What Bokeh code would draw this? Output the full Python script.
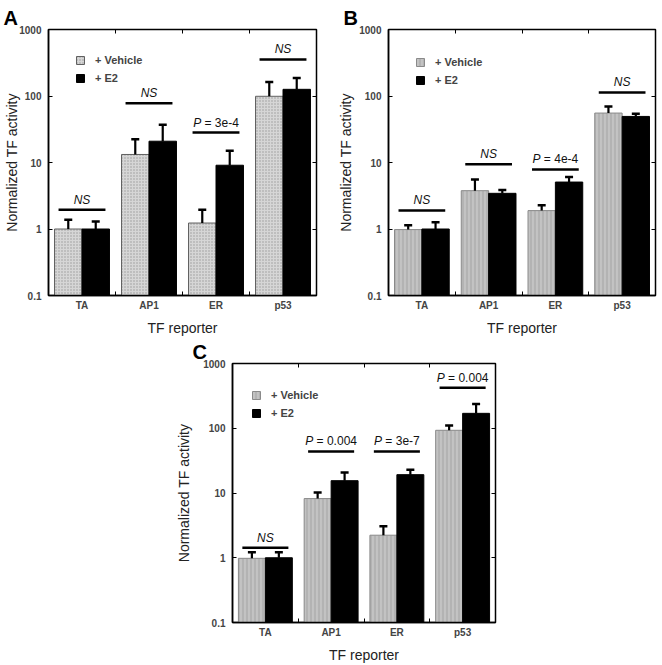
import math
from bokeh.plotting import figure
from bokeh.models import (ColumnDataSource, FixedTicker, LogAxis, LinearAxis, Legend,
                          LegendItem, CustomJSTickFormatter, Spacer, Range1d)
from bokeh.layouts import row, column
from bokeh.core.properties import value
from bokeh.embed import file_html
from bokeh.resources import INLINE

# ---------------- data ----------------
categories = ["TA", "AP1", "ER", "p53"]
y_ticks = [0.1, 1, 10, 100, 1000]

a_vehicle = [1.0, 13.2, 1.23, 99]
a_vehicle_err = [1.38, 22.4, 1.95, 162]
a_e2 = [1.0, 20.9, 9.1, 126]
a_e2_err = [1.3, 37, 15, 186]
a_sig_label = ["NS", "NS", "P = 3e-4", "NS"]
a_sig_y = [1.95, 77.6, 28.2, 355]

b_vehicle = [0.98, 3.77, 1.89, 55.4]
b_vehicle_err = [1.14, 5.57, 2.28, 69.7]
b_e2 = [1.0, 3.44, 5.08, 49.3]
b_e2_err = [1.26, 3.86, 6.03, 54]
b_sig_label = ["NS", "NS", "P = 4e-4", "NS"]
b_sig_y = [1.9, 9.4, 7.85, 113]

c_vehicle = [0.98, 8.2, 2.23, 93]
c_vehicle_err = [1.22, 10.2, 3.07, 110]
c_e2 = [1.0, 15.5, 19.2, 170]
c_e2_err = [1.22, 20.8, 22.9, 236]
c_sig_label = ["NS", "P = 0.004", "P = 3e-7", "P = 0.004"]
c_sig_y = [1.43, 43.8, 43.8, 423]

FONT = "Liberation Sans"
SIG_SIZE = 12
CHAR_W = {"P": .667, "N": .722, "S": .667, " ": .278, "\u00a0": .278, "=": .584,
          "e": .556, "-": .333, ".": .278}


def text_w(s):
    return sum(CHAR_W.get(ch, .556) for ch in s) * SIG_SIZE


def panel(letter, veh, veh_err, e2, e2_err, sig_label, sig_y, width, height,
          borders, hatch, legend_px, letter_dx, ylabel_standoff):
    bl, br, bt, bb = borders
    n = len(categories)
    fh = height - bt - bb
    p = figure(width=width, height=height, x_range=Range1d(0, n),
               y_range=Range1d(y_ticks[0], y_ticks[-1]), y_axis_type="log",
               output_backend="svg", toolbar_location=None,
               min_border_left=bl, min_border_right=br,
               min_border_top=bt, min_border_bottom=bb)
    p.xgrid.visible = False
    p.ygrid.visible = False
    p.outline_line_color = "black"
    p.outline_line_width = 1.5
    p.background_fill_color = "white"

    # panel letter as the figure title
    p.title.text = letter
    p.title.align = "left"
    p.title.offset = -letter_dx
    p.title.standoff = 1
    p.title.text_font = FONT
    p.title.text_font_size = "20px"
    p.title.text_font_style = "bold"
    p.title.text_color = "black"

    bw = 0.41
    xv = [i + 0.5 - bw / 2 for i in range(n)]
    xe = [i + 0.5 + bw / 2 for i in range(n)]
    src_v = ColumnDataSource(dict(x=xv, top=veh, err=veh_err))
    src_e = ColumnDataSource(dict(x=xe, top=e2, err=e2_err))

    if hatch == "dot":
        vstyle = dict(fill_color="#d6d6d6", hatch_pattern="dot", hatch_color="#9a9a9a",
                      hatch_scale=3, hatch_weight=1, line_color="#606060", line_width=1)
    else:
        vstyle = dict(fill_color="#b3b3b3", hatch_pattern="vertical_line",
                      hatch_color="#d2d2d2", hatch_scale=4, hatch_weight=1,
                      line_color="#8a8a8a", line_width=1)
    rv = p.vbar(x="x", width=bw, bottom=y_ticks[0], top="top", source=src_v, **vstyle)
    re_ = p.vbar(x="x", width=bw, bottom=y_ticks[0], top="top", source=src_e,
                 fill_color="black", line_color="black", line_width=1)

    for src in (src_v, src_e):
        p.segment(x0="x", y0="top", x1="x", y1="err", source=src,
                  line_color="black", line_width=2.2)
        p.scatter(x="x", y="err", source=src, marker="dash", size=8,
                  line_color="black", line_width=2.5)

    # significance bars
    gx = [i + 0.5 for i in range(n)]
    p.segment(x0=[g - 0.35 for g in gx], y0=sig_y, x1=[g + 0.35 for g in gx],
              y1=sig_y, line_color="black", line_width=2.5)
    it = dict(x=[], y=[], text=[], xo=[])
    nt = dict(x=[], y=[], text=[], xo=[])
    for g, y, lab in zip(gx, sig_y, sig_label):
        if lab.startswith("P"):
            parts = [("P", it), ("\u00a0" + lab[1:].lstrip(), nt)]
        else:
            parts = [(lab, it)]
        total = sum(text_w(t) for t, _ in parts)
        off = -total / 2
        for t, d in parts:
            d["x"].append(g)
            d["y"].append(y)
            d["text"].append(t)
            d["xo"].append(off)
            off += text_w(t)
    for d, style in ((it, "italic"), (nt, "normal")):
        p.text(x="x", y="y", text="text", x_offset="xo", y_offset=-3,
               source=ColumnDataSource(d), text_align="left", text_baseline="bottom",
               text_font=value(FONT), text_font_size=f"{SIG_SIZE}px",
               text_font_style=style, text_color="#111111")

    # axes
    ax = p.yaxis[0]
    ax.ticker = FixedTicker(ticks=y_ticks, minor_ticks=[])
    ax.formatter = CustomJSTickFormatter(code="return String(tick)")
    ax.major_tick_in = 4
    ax.major_tick_out = 0
    ax.minor_tick_in = 0
    ax.minor_tick_out = 0
    ax.major_label_standoff = 7
    ax.axis_label = "Normalized TF activity"
    ax.axis_label_standoff = ylabel_standoff
    ax.axis_label_text_font = FONT
    ax.axis_label_text_font_size = "14px"
    ax.axis_label_text_font_style = "normal"
    ax.axis_label_text_color = "#222222"
    ax.major_label_text_font = FONT
    ax.major_label_text_font_size = "10px"
    ax.major_label_text_font_style = "bold"
    ax.axis_line_width = 1.5

    bx = p.xaxis[0]
    bx.ticker = FixedTicker(ticks=gx, minor_ticks=list(range(1, n)))
    bx.formatter = CustomJSTickFormatter(args=dict(cats=categories),
                                         code="return cats[Math.floor(tick)]")
    bx.major_tick_in = 0
    bx.major_tick_out = 0
    bx.minor_tick_in = 4
    bx.minor_tick_out = 0
    bx.major_label_standoff = 4
    bx.axis_label = "TF reporter"
    bx.axis_label_standoff = 6
    bx.axis_label_text_font = FONT
    bx.axis_label_text_font_size = "14px"
    bx.axis_label_text_font_style = "normal"
    bx.axis_label_text_color = "#222222"
    bx.major_label_text_font = FONT
    bx.major_label_text_font_size = "10px"
    bx.major_label_text_font_style = "bold"
    bx.axis_line_width = 1.5

    blank = CustomJSTickFormatter(code="return ''")
    ra = LogAxis(ticker=FixedTicker(ticks=y_ticks, minor_ticks=[]), formatter=blank,
                 major_tick_in=4, major_tick_out=0, minor_tick_in=0, minor_tick_out=0,
                 major_label_standoff=0, major_label_text_font_size="1px",
                 axis_line_color=None)
    p.add_layout(ra, "right")
    ta = LinearAxis(ticker=FixedTicker(ticks=list(range(1, n)), minor_ticks=[]),
                    formatter=blank,
                    major_tick_in=4, major_tick_out=0, minor_tick_in=0, minor_tick_out=0,
                    major_label_standoff=0, major_label_text_font_size="1px",
                    axis_line_color=None)
    p.add_layout(ta, "above")

    lx, ltop = legend_px
    legend = Legend(items=[LegendItem(label="+ Vehicle", renderers=[rv]),
                           LegendItem(label="+ E2", renderers=[re_])],
                    location=(lx, fh - ltop), background_fill_alpha=0,
                    border_line_color=None, padding=0, margin=0, spacing=6,
                    glyph_width=10, glyph_height=10, label_height=10,
                    label_standoff=10, label_text_font=FONT,
                    label_text_font_size="11px", label_text_font_style="bold",
                    label_text_baseline="middle")
    p.add_layout(legend)
    return p


pa = panel("A", a_vehicle, a_vehicle_err, a_e2, a_e2_err, a_sig_label, a_sig_y,
           330, 338, (48, 14, 29, 42), "dot", (27, 56), 45, -4)
pb = panel("B", b_vehicle, b_vehicle_err, b_e2, b_e2_err, b_sig_label, b_sig_y,
           332, 338, (58, 7, 29, 42), "vline", (27, 58), 45, 2)
pc = panel("C", c_vehicle, c_vehicle_err, c_e2, c_e2_err, c_sig_label, c_sig_y,
           340, 327, (62, 15, 25, 42), "vline", (19, 57), 40, 8)

layout = column(row(pa, pb), row(Spacer(width=170, height=327), pc))

open("out.html", "w").write(file_html(layout, INLINE))
